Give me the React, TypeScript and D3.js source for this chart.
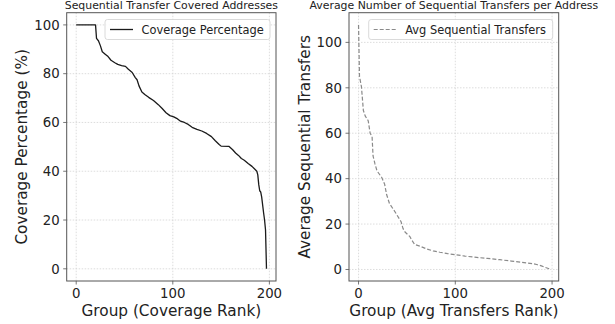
import React from "react";
import * as d3 from "d3";

// coverage curve (left panel)
const coverageRank = [0, 20, 21, 23, 25, 27, 30, 33, 36, 40, 43, 47, 51, 54, 58, 61, 63, 65, 68, 71, 75, 80, 85, 89, 93, 97, 101, 104, 108, 112, 116, 120, 125, 130, 135, 140, 144, 148, 150, 158, 162, 165, 168, 171, 174, 178, 182, 185, 187, 188, 189, 190, 191, 192, 194, 195, 196, 197];
const coveragePct = [100, 100, 94.5, 93.5, 91.5, 89, 88, 87, 85.5, 84.5, 83.8, 83.3, 83, 81.8, 80.5, 78.5, 77.5, 75, 72.5, 71.5, 70.3, 69, 67.3, 65.7, 64, 62.8, 62.3, 61.7, 60.5, 60, 59.2, 58, 57.2, 56.5, 55.5, 54.2, 52.5, 51, 50.3, 50.2, 48.8, 47.5, 46.5, 45.2, 44.5, 43.2, 42, 40.8, 40, 38.5, 34.5, 32, 31.5, 29.5, 23, 20, 16, 0];

// avg sequential transfers (right panel)
const avgRank = [0, 1, 3, 5, 7, 10, 12, 14, 15, 17, 19, 24, 27, 29, 32, 36, 39, 44, 46, 48, 53, 55, 58, 64, 70, 77, 84, 92, 100, 110, 120, 133, 146, 158, 167, 175, 181, 185, 189, 193, 197];
const avgTransfers = [107.7, 85, 80.5, 70, 67.5, 65.5, 60, 58.5, 50, 46.5, 43.5, 40.5, 37.5, 33, 29, 26.5, 24.5, 21, 18, 16.5, 14.5, 13, 11, 10.2, 9.1, 8.2, 7.6, 7, 6.5, 5.9, 5.4, 4.9, 4.3, 3.7, 3.2, 2.8, 2.5, 2.1, 1.6, 0.9, 0.3];

const xTicks = [0, 100, 200];
const yTicks = [0, 20, 40, 60, 80, 100];

const FONT = "DejaVu Sans, sans-serif";

type PanelProps = {
  left: number;
  right: number;
  top: number;
  bottom: number;
  xs: number[];
  ys: number[];
  title: string;
  xLabel: string;
  yLabel: string;
  yLabelX: number;
  legend: string;
  legendW: number;
  dashed: boolean;
};

// matplotlib-style 5% margin around the data
function pad(ext: [number, number]): [number, number] {
  const d = (ext[1] - ext[0]) * 0.05;
  return [ext[0] - d, ext[1] + d];
}

const Panel = (p: PanelProps) => {
  const x = d3.scaleLinear().domain(pad(d3.extent(p.xs) as [number, number])).range([p.left, p.right]);
  const y = d3.scaleLinear().domain(pad(d3.extent(p.ys) as [number, number])).range([p.bottom, p.top]);
  const line = d3
    .line<number>()
    .x((_, i) => x(p.xs[i]))
    .y((d) => y(d));
  const cx = (p.left + p.right) / 2;
  const cy = (p.top + p.bottom) / 2;
  const lx = p.right - 6 - p.legendW;
  const stroke = p.dashed ? "#8a8a8a" : "#1a1a1a";
  return (
    <g fontFamily={FONT}>
      {xTicks.map((t) => (
        <line key={"gx" + t} x1={x(t)} x2={x(t)} y1={p.top} y2={p.bottom} stroke="#d4d4d4" strokeWidth={0.8} strokeDasharray="1.5,1.5" />
      ))}
      {yTicks.map((t) => (
        <line key={"gy" + t} x1={p.left} x2={p.right} y1={y(t)} y2={y(t)} stroke="#d4d4d4" strokeWidth={0.8} strokeDasharray="1.5,1.5" />
      ))}
      <path
        d={line(p.ys) || ""}
        fill="none"
        stroke={stroke}
        strokeWidth={p.dashed ? 1.2 : 1.3}
        strokeDasharray={p.dashed ? "4,2" : undefined}
        strokeLinejoin="round"
      />
      <rect x={p.left} y={p.top} width={p.right - p.left} height={p.bottom - p.top} fill="none" stroke="#555" strokeWidth={1} />
      {xTicks.map((t) => (
        <g key={"tx" + t}>
          <line x1={x(t)} x2={x(t)} y1={p.bottom} y2={p.bottom + 3.5} stroke="#555" strokeWidth={0.8} />
          <text x={x(t)} y={p.bottom + 17} fontSize={13.3} textAnchor="middle" fill="#222">{t}</text>
        </g>
      ))}
      {yTicks.map((t) => (
        <g key={"ty" + t}>
          <line x1={p.left - 3.5} x2={p.left} y1={y(t)} y2={y(t)} stroke="#555" strokeWidth={0.8} />
          <text x={p.left - 7} y={y(t) + 4.8} fontSize={13.3} textAnchor="end" fill="#222">{t}</text>
        </g>
      ))}
      <text x={cx} y={9.3} fontSize={10.9} textAnchor="middle" fill="#222">{p.title}</text>
      <text x={cx} y={316} fontSize={15.3} textAnchor="middle" fill="#222">{p.xLabel}</text>
      <text transform={`translate(${p.yLabelX},${cy}) rotate(-90)`} fontSize={15.3} textAnchor="middle" fill="#222">{p.yLabel}</text>
      <rect x={lx} y={19.5} width={p.legendW} height={20} rx={2.5} fill="white" fillOpacity={0.85} stroke="#d0d0d0" strokeWidth={0.8} />
      <line
        x1={lx + 5}
        x2={lx + 28}
        y1={29.5}
        y2={29.5}
        stroke={stroke}
        strokeWidth={p.dashed ? 1.2 : 1.3}
        strokeDasharray={p.dashed ? "4,2" : undefined}
      />
      <text x={lx + 36.5} y={33.6} fontSize={11.4} fill="#222">{p.legend}</text>
    </g>
  );
};

export default function App() {
  return (
    <svg width={615} height={324} style={{ position: "absolute", left: 0, top: 0, background: "white" }}>
      <rect width={615} height={324} fill="white" />
      <Panel
        left={66.7}
        right={276}
        top={12.7}
        bottom={281}
        xs={coverageRank}
        ys={coveragePct}
        title="Sequential Transfer Covered Addresses"
        xLabel="Group (Coverage Rank)"
        yLabel="Coverage Percentage (%)"
        yLabelX={27}
        legend="Coverage Percentage"
        legendW={165}
        dashed={false}
      />
      <Panel
        left={349}
        right={558.7}
        top={12.7}
        bottom={281}
        xs={avgRank}
        ys={avgTransfers}
        title="Average Number of Sequential Transfers per Address"
        xLabel="Group (Avg Transfers Rank)"
        yLabel="Average Sequential Transfers"
        yLabelX={310}
        legend="Avg Sequential Transfers"
        legendW={184}
        dashed={true}
      />
    </svg>
  );
}
